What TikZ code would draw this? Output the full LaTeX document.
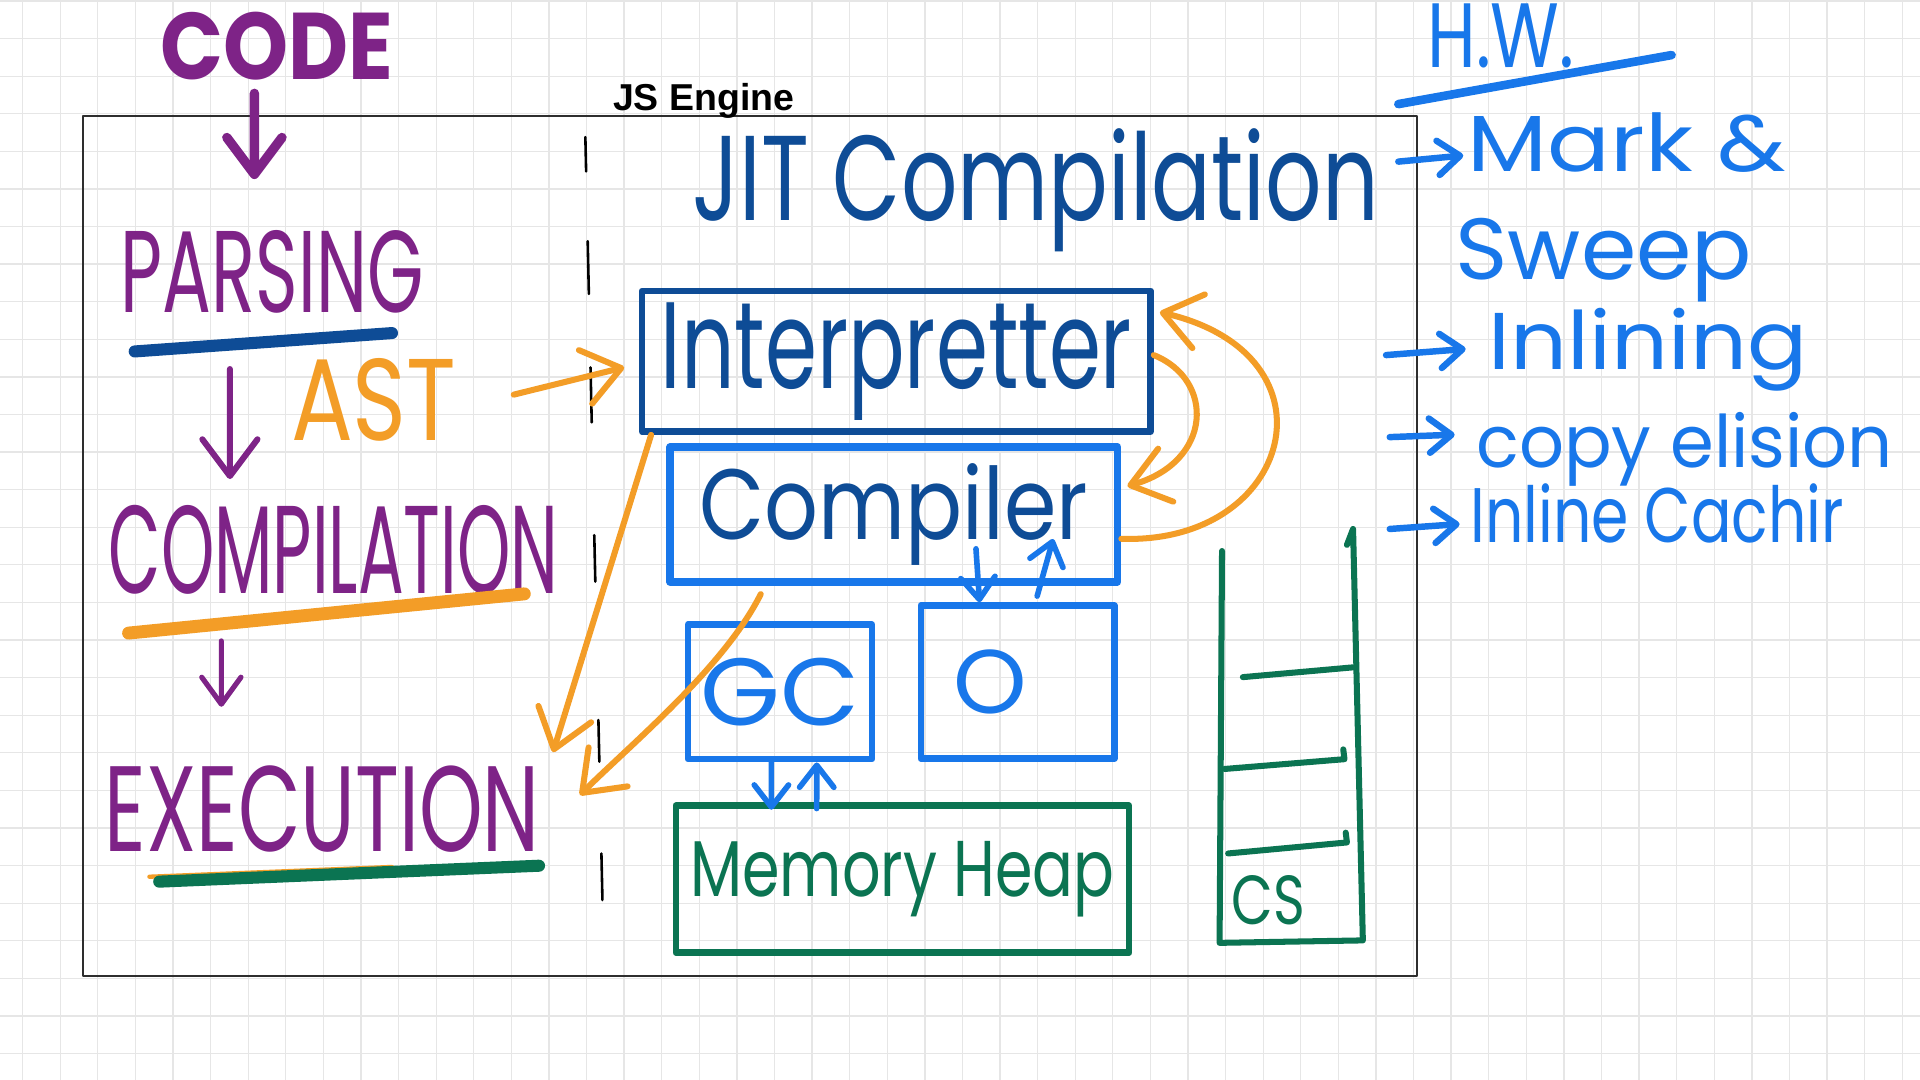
\documentclass[tikz,border=0pt]{standalone}
\usepackage{fontspec}
\usepackage{graphicx}
\setmainfont{Poppins}
\newfontfamily\enginefont{Liberation Sans}
\usetikzlibrary{arrows.meta}

\definecolor{penpurple}{HTML}{7E2387}
\definecolor{pendark}{HTML}{0E4C96}
\definecolor{penblue}{HTML}{1877EA}
\definecolor{penorange}{HTML}{F39D27}
\definecolor{pengreen}{HTML}{0B7452}
\definecolor{gridgray}{HTML}{E6E6E6}
\definecolor{framegray}{HTML}{2E2E2E}

% hand lettering squeezed into a given width and height (cm)
\newcommand{\handw}[3]{\resizebox{#1cm}{#2cm}{#3}}

\begin{document}
\begin{tikzpicture}[x=0.01cm,y=-0.01cm,line cap=round,line join=round]
    \tikzstyle{every node}=[inner sep=0pt,anchor=base west];
    \tikzstyle{gridline}=[draw=gridgray,line width=0.3pt];
    \tikzstyle{box}=[draw,rectangle,anchor=center,line width=1.5pt];
    \tikzstyle{purplearrow}=[draw=penpurple,-{Straight Barb[round,length=3mm,width=4.5mm]}];
    \tikzstyle{orangearrow}=[draw=penorange,line width=1.4pt,-{Straight Barb[round,length=3mm,width=4.5mm]}];
    \tikzstyle{bluearrow}=[draw=penblue,line width=1.3pt,-{Straight Barb[round,length=1.8mm,width=2.8mm]}];
    \tikzstyle{stackline}=[draw=pengreen,line width=1.4pt];

    \useasboundingbox (0,0) rectangle (1568,882);
    \fill[white] (0,0) rectangle (1568,882);
    \foreach \i in {0,...,50} \draw[gridline] ({18.5+30.7*\i},0) -- ({18.5+30.7*\i},882);
    \foreach \j in {0,...,28} \draw[gridline] (0,{0.8+30.7*\j}) -- (1568,{0.8+30.7*\j});

    % engine frame
    \draw[framegray,line width=0.5pt] (68,95) rectangle (1157,797);
    \node at (500,90) (engine) [font=\enginefont\bfseries\fontsize{8.7}{10}\selectfont] {JS Engine};
    \foreach \ya/\yb in {112/140,197/240,300/345,437/475,588/622,697/735}
        \draw[black,line width=0.6pt] ({478+(\ya-110)*0.0224},\ya) -- ({478+(\yb-110)*0.0224},\yb);

    % stages
    \node at (130,65)  (code)        [penpurple] {\handw{1.90}{0.55}{\bfseries CODE}};
    \node at (98,255)  (parsing)     [penpurple] {\handw{2.47}{0.67}{PARSING}};
    \node at (237,360) (ast)         [penorange] {\handw{1.35}{0.67}{AST}};
    \node at (88,485)  (compilation) [penpurple] {\handw{3.67}{0.72}{COMPILATION}};
    \node at (85,695)  (execution)   [penpurple] {\handw{3.55}{0.70}{EXECUTION}};

    \draw[purplearrow,line width=2.2pt] ([xshift=-0.18cm,yshift=-0.10cm]code.south) to ([xshift=-0.145cm,yshift=0.41cm]parsing.north);
    \draw[purplearrow,line width=1.4pt] ([xshift=-0.345cm,yshift=-0.45cm]parsing.south) to ([xshift=-0.845cm,yshift=0.21cm]compilation.north);
    \draw[purplearrow,line width=1.2pt,-{Straight Barb[round,length=2.2mm,width=3.2mm]}] ([xshift=-0.915cm,yshift=-0.37cm]compilation.south) to ([xshift=-0.825cm,yshift=0.47cm]execution.north);

    \draw[pendark,line width=2.8pt] ([xshift=0.12cm,yshift=-0.32cm]parsing.base west) to ([xshift=2.22cm,yshift=-0.17cm]parsing.base west);
    \draw[penorange,line width=3pt] ([xshift=0.17cm,yshift=-0.32cm]compilation.base west) to ([xshift=3.40cm,yshift=0cm]compilation.base west);
    \draw[penorange,line width=1pt] ([xshift=0.37cm,yshift=-0.21cm]execution.base west) to ([xshift=2.35cm,yshift=-0.13cm]execution.base west);
    \draw[pengreen,line width=2.8pt] ([xshift=0.45cm,yshift=-0.25cm]execution.base west) to ([xshift=3.55cm,yshift=-0.12cm]execution.base west);

    % JIT part
    \node at (565,180) (jit) [pendark] {\handw{5.60}{0.75}{JIT Compilation}};
    \node at (732,295) (interp) [box,pendark,minimum width=4.15cm,minimum height=1.15cm] {\handw{3.85}{0.70}{Interpretter}};
    \node at (730,420) (comp) [box,draw=penblue,text=pendark,line width=1.8pt,minimum width=3.65cm,minimum height=1.10cm] {\handw{3.17}{0.62}{Compiler}};
    \node at (637,565) (gc) [box,penblue,minimum width=1.50cm,minimum height=1.10cm] {\handw{1.30}{0.55}{GC}};
    \node at (831,557) (obox) [box,penblue,minimum width=1.58cm,minimum height=1.25cm] {\handw{0.60}{0.52}{O}\hspace*{0.45cm}};
    \node at (737,718) (heap) [box,pengreen,minimum width=3.70cm,minimum height=1.20cm] {\handw{3.46}{0.45}{Memory Heap}};

    \draw[orangearrow] ([xshift=0.46cm,yshift=0.045cm]ast.east) to ([xshift=-0.12cm,yshift=-0.05cm]interp.west);
    \draw[orangearrow] ([yshift=0.05cm]interp.east) .. controls +(50,20) and +(70,-20) .. ([xshift=0.05cm,yshift=0.23cm]comp.east);
    \draw[orangearrow] ([yshift=-0.2cm]comp.east) .. controls +(140,5) and +(150,35) .. ([xshift=0.05cm,yshift=0.4cm]interp.east);
    \draw[orangearrow] ([xshift=0.1cm]interp.south west) to ([xshift=0.1cm,yshift=0.1cm]execution.north east);
    \draw[orangearrow] ([xshift=0.77cm,yshift=-0.07cm]comp.south west) .. controls +(-30,60) and +(40,-40) .. ([xshift=0.32cm,yshift=-0.25cm]execution.north east);

    \draw[bluearrow] ([xshift=0.67cm,yshift=0.3cm]comp.south) to ([xshift=-0.31cm]obox.north);
    \draw[bluearrow] ([xshift=0.16cm,yshift=0.05cm]obox.north) to ([xshift=1.3cm,yshift=0.38cm]comp.south);
    \draw[bluearrow] ([xshift=-0.07cm]gc.south) to ([xshift=-1.07cm,yshift=-0.06cm]heap.north);
    \draw[bluearrow] ([xshift=-0.70cm,yshift=-0.05cm]heap.north) to ([xshift=0.30cm]gc.south);

    % call stack
    \draw[stackline] (998,450) -- (996,770) -- (1113,768) -- (1105,432) -- (1100,445);
    \draw[stackline] (1015,553) -- (1105,545);
    \draw[stackline] (1000,628) -- (1098,620) -- (1097,612);
    \draw[stackline] (1003,697) -- (1100,688) -- (1099,680);
    \node at (1005,755) (cs) [pengreen] {\handw{0.60}{0.40}{CS}};

    % homework list
    \node at (1165,55)  (hw)      [penblue] {\handw{1.20}{0.52}{H.W.}};
    \node at (1198,140) (mark)    [penblue] {\handw{2.60}{0.48}{Mark \&}};
    \node at (1188,228) (sweep)   [penblue] {\handw{2.42}{0.50}{Sweep}};
    \node at (1215,302) (inlining)[penblue] {\handw{2.60}{0.50}{Inlining}};
    \node at (1205,382) (copy)    [penblue] {\handw{3.40}{0.45}{copy elision}};
    \node at (1200,443) (cachir)  [penblue] {\handw{3.05}{0.48}{Inline Cachir}};

    \draw[penblue,line width=2pt] ([xshift=-0.23cm,yshift=-0.30cm]hw.base west) to ([xshift=2.0cm,yshift=0.10cm]hw.base west);
    \draw[bluearrow,line width=1.5pt] ([xshift=-0.56cm,yshift=0.08cm]mark.base west) to ([xshift=-0.03cm,yshift=0.13cm]mark.base west);
    \draw[bluearrow,line width=1.5pt] ([xshift=-0.83cm,yshift=0.12cm]inlining.base west) to ([xshift=-0.18cm,yshift=0.17cm]inlining.base west);
    \draw[bluearrow,line width=1.5pt] ([xshift=-0.70cm,yshift=0.25cm]copy.base west) to ([xshift=-0.17cm,yshift=0.27cm]copy.base west);
    \draw[bluearrow,line width=1.5pt] ([xshift=-0.65cm,yshift=0.11cm]cachir.base west) to ([xshift=-0.08cm,yshift=0.15cm]cachir.base west);
\end{tikzpicture}
\end{document}
